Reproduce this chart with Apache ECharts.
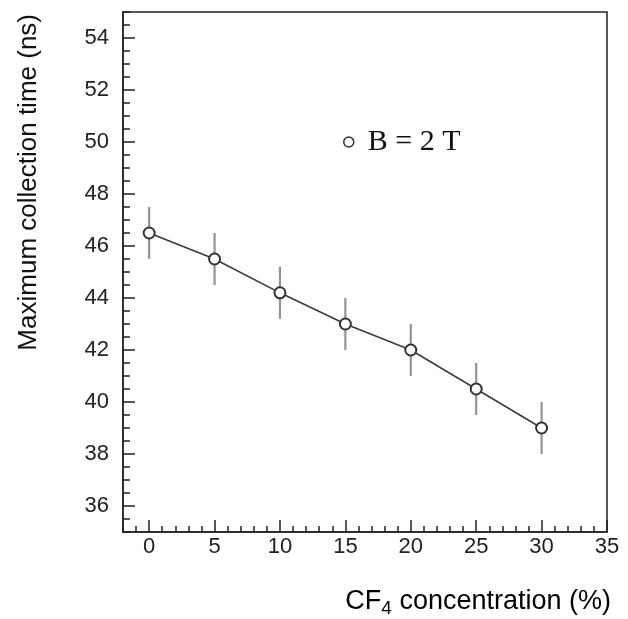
<!DOCTYPE html>
<html>
<head>
<meta charset="utf-8">
<title>Maximum collection time vs CF4 concentration</title>
<script src="https://cdn.jsdelivr.net/npm/echarts@6.0.0/dist/echarts.min.js"></script>
<style>
  html, body { margin: 0; padding: 0; background: #fff; }
  #chart { width: 628px; height: 619px; }
</style>
</head>
<body>
<div id="chart"></div>
<script>
// data
var concentration = [0, 5, 10, 15, 20, 25, 30];          // CF4 (%)
var collectionTime = [46.5, 45.5, 44.2, 43.0, 42.0, 40.5, 39.0]; // ns
var timeError = [1, 1, 1, 1, 1, 1, 1];                   // ns
var seriesName = 'B = 2 T';

// tick labels
var xMajorTicks = [0, 5, 10, 15, 20, 25, 30, 35];
var yMajorTicks = [36, 38, 40, 42, 44, 46, 48, 50, 52, 54];

var chart = echarts.init(document.getElementById('chart'));

var labelFont = 'Liberation Sans, Arial, sans-serif';

var option = {
    animation: false,
    backgroundColor: '#fff',
    grid: {
        left: 123, right: 21, top: 12, bottom: 87,
        show: true,
        borderColor: '#222',
        borderWidth: 1.5
    },
    legend: {
        left: 338,
        top: 122,
        icon: 'circle',
        itemWidth: 10,
        itemHeight: 10,
        data: [{
            name: seriesName,
            itemStyle: { color: '#fff', borderColor: '#333', borderWidth: 1.5 }
        }],
        textStyle: {
            fontFamily: 'Liberation Serif, Times New Roman, serif',
            fontSize: 30,
            color: '#111',
            padding: [0, 0, 0, 9]
        }
    },
    xAxis: [{
        type: 'value',
        min: -2, max: 35,
        axisLine: { onZero: false, lineStyle: { color: '#222', width: 1.5 } },
        axisTick: {
            inside: true, length: 12, customValues: xMajorTicks,
            lineStyle: { color: '#222', width: 1.5 }
        },
        axisLabel: {
            customValues: xMajorTicks,
            fontSize: 22, color: '#222', fontFamily: labelFont, margin: 4
        },
        splitLine: { show: false }
    }, {
        type: 'value',
        position: 'bottom',
        min: -2, max: 35, interval: 1,
        axisLine: { show: false, onZero: false },
        axisTick: { inside: true, length: 6, lineStyle: { color: '#222', width: 1.5 } },
        axisLabel: { show: false },
        splitLine: { show: false }
    }],
    yAxis: [{
        type: 'value',
        min: 35, max: 55,
        axisLine: { show: true, onZero: false, lineStyle: { color: '#222', width: 1.5 } },
        axisTick: {
            show: true, inside: true, length: 12, customValues: yMajorTicks,
            lineStyle: { color: '#222', width: 1.5 }
        },
        axisLabel: {
            customValues: yMajorTicks,
            fontSize: 22, color: '#222', fontFamily: labelFont, margin: 14
        },
        splitLine: { show: false }
    }, {
        type: 'value',
        position: 'left',
        min: 35, max: 55, interval: 0.5,
        axisLine: { show: false, onZero: false },
        axisTick: { show: true, inside: true, length: 7, lineStyle: { color: '#222', width: 1.5 } },
        axisLabel: { show: false },
        splitLine: { show: false }
    }],
    graphic: [{
        type: 'text',
        x: 29, y: 14,
        rotation: Math.PI / 2,
        style: {
            text: 'Maximum collection time (ns)',
            font: '26px ' + labelFont,
            fill: '#111',
            align: 'right',
            verticalAlign: 'middle'
        }
    }, {
        type: 'text',
        x: 611, y: 602,
        style: {
            text: '{a|CF}{s|4}{a| concentration (%)}',
            align: 'right',
            verticalAlign: 'middle',
            rich: {
                a: { fontSize: 27, fontFamily: labelFont, color: '#111', lineHeight: 32, verticalAlign: 'middle' },
                s: { fontSize: 19, fontFamily: labelFont, color: '#111', lineHeight: 18, verticalAlign: 'bottom' }
            }
        }
    }],
    series: [{
        type: 'custom',
        z: 2,
        renderItem: function (params, api) {
            var x = api.value(0);
            var y = api.value(1);
            var e = api.value(2);
            var top = api.coord([x, y + e]);
            var bot = api.coord([x, y - e]);
            return {
                type: 'line',
                shape: { x1: top[0], y1: top[1], x2: bot[0], y2: bot[1] },
                style: { stroke: '#939393', lineWidth: 2.2 }
            };
        },
        encode: { x: 0, y: 1 },
        data: concentration.map(function (c, i) {
            return [c, collectionTime[i], timeError[i]];
        })
    }, {
        name: seriesName,
        type: 'line',
        z: 3,
        symbol: 'emptyCircle',
        symbolSize: 11,
        lineStyle: { color: '#3a3a3a', width: 1.5 },
        itemStyle: { color: '#333', borderWidth: 1.5 },
        data: concentration.map(function (c, i) {
            return [c, collectionTime[i]];
        })
    }]
};

chart.setOption(option);
</script>
</body>
</html>
